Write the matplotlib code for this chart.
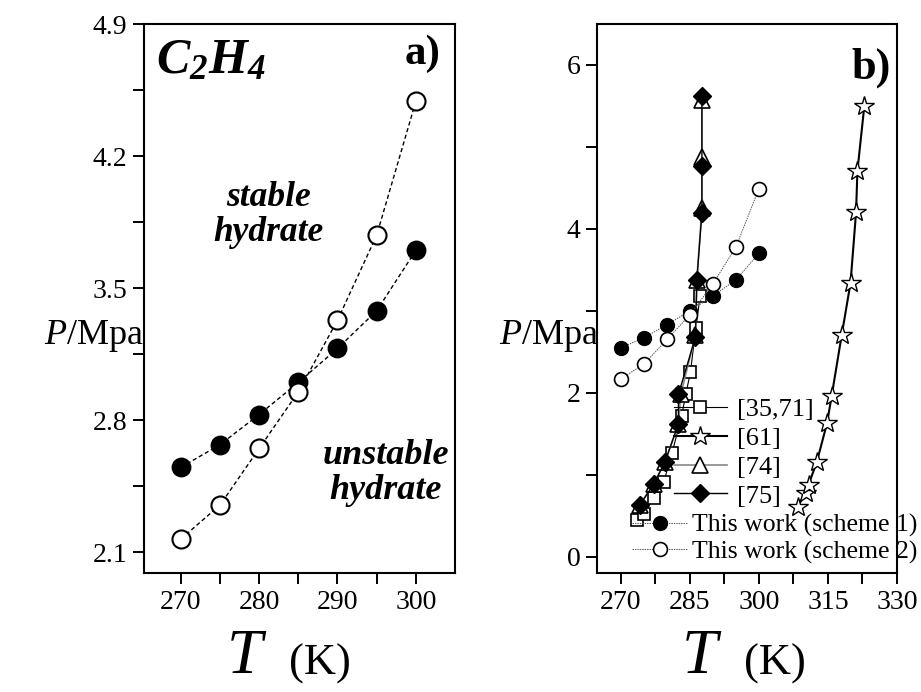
import matplotlib
matplotlib.use("Agg")
import matplotlib.pyplot as plt
from matplotlib.ticker import FixedLocator

plt.rcParams['font.family'] = ['Liberation Serif', 'DejaVu Serif']
plt.rcParams['mathtext.fontset'] = 'custom'
plt.rcParams['mathtext.it'] = 'Liberation Serif:italic'
plt.rcParams['mathtext.rm'] = 'Liberation Serif'
plt.rcParams['mathtext.bf'] = 'Liberation Serif:bold:italic'

# ---- data ----
T_work = [270, 275, 280, 285, 290, 295, 300]
P_scheme1 = [2.55, 2.67, 2.83, 3.00, 3.18, 3.38, 3.70]
P_scheme2 = [2.17, 2.35, 2.65, 2.95, 3.33, 3.78, 4.49]

T_3571 = [273.6, 275.1, 277.1, 279.3, 281.1, 283.2, 284.1, 285.1, 286.3, 287.2]
P_3571 = [0.45, 0.52, 0.72, 0.91, 1.26, 1.72, 1.98, 2.25, 2.79, 3.18]

T_61 = [308.4, 310.2, 310.8, 312.6, 314.8, 315.8, 318.0, 319.9, 321.1, 321.4, 322.9]
P_61 = [0.61, 0.78, 0.88, 1.16, 1.63, 1.96, 2.71, 3.34, 4.20, 4.71, 5.50]

T_74 = [274.1, 277.1, 279.6, 282.5, 283.0, 286.2, 286.5, 287.6, 287.6, 287.6]
P_74 = [0.63, 0.89, 1.16, 1.62, 1.98, 2.70, 3.38, 4.25, 4.88, 5.57]

T_75 = [274.1, 277.2, 279.6, 282.5, 282.5, 286.2, 286.5, 287.6, 287.6, 287.6]
P_75 = [0.63, 0.89, 1.16, 1.62, 1.98, 2.68, 3.38, 4.19, 4.77, 5.62]

labels_b = ['[35,71]', '[61]', '[74]', '[75]', 'This work (scheme 1)', 'This work (scheme 2)']

W, H = 921, 692
fig = plt.figure(figsize=(W / 100, H / 100), dpi=100)

def px_rect(x0, x1, ytop, ybot):
    return [x0 / W, 1 - ybot / H, (x1 - x0) / W, (ybot - ytop) / H]

axa = fig.add_axes(px_rect(144, 455, 24, 573))
axb = fig.add_axes(px_rect(597, 897, 24, 573))

for ax in (axa, axb):
    for s in ax.spines.values():
        s.set_linewidth(1.5)
    ax.tick_params(which='both', direction='out', width=1.4, labelsize=20,
                   top=False, right=False, pad=4)
    ax.tick_params(which='major', length=8)
    ax.tick_params(which='minor', length=8)

# ---- panel a ----
axa.plot(T_work, P_scheme1, linestyle=(0, (3, 2)), color='black', lw=1.0,
         marker='o', ms=13, mfc='black', mec='black', mew=1.3)
axa.plot(T_work, P_scheme2, linestyle=(0, (3, 2)), color='black', lw=1.0,
         marker='o', ms=13, mfc='white', mec='black', mew=1.5)
axa.set_xlim(265.3, 305)
axa.set_ylim(1.99, 4.9)
axa.xaxis.set_major_locator(FixedLocator([270, 280, 290, 300]))
axa.xaxis.set_minor_locator(FixedLocator([275, 285, 295]))
axa.yaxis.set_major_locator(FixedLocator([2.1, 2.8, 3.5, 4.2, 4.9]))
axa.yaxis.set_minor_locator(FixedLocator([2.45, 3.15, 3.85, 4.55]))
axa.set_yticklabels(['2.1', '2.8', '3.5', '4.2', '4.9'])

axa.text(0.04, 0.975, r'$\mathbf{C_2H_4}$', transform=axa.transAxes, fontsize=36,
         ha='left', va='top')
axa.text(0.952, 0.98, 'a)', transform=axa.transAxes, fontsize=31,
         fontweight='bold', ha='right', va='top')
axa.text(0.40, 0.652, 'stable\nhydrate', transform=axa.transAxes, fontsize=25.5,
         fontweight='bold', fontstyle='italic', ha='center', va='center',
         linespacing=1.1)
axa.text(0.777, 0.182, 'unstable\nhydrate', transform=axa.transAxes, fontsize=26,
         fontweight='bold', fontstyle='italic', ha='center', va='center',
         linespacing=1.05)

# ---- panel b ----
h1, = axb.plot(T_3571, P_3571, color='black', lw=0.8, marker='s', ms=9,
               mfc='white', mec='black', mew=1.2, label=labels_b[0])
h2, = axb.plot(T_61, P_61, color='black', lw=1.5, marker='*', ms=15,
               mfc='white', mec='black', mew=1.0, label=labels_b[1])
h3, = axb.plot(T_74, P_74, color='#888888', lw=1.2, marker='^', ms=12,
               mfc='white', mec='black', mew=1.2, label=labels_b[2])
h4, = axb.plot(T_75, P_75, color='black', lw=1.0, marker='D', ms=9.5,
               mfc='black', mec='black', mew=1.0, label=labels_b[3])
h5, = axb.plot(T_work, P_scheme1, color='#555555', lw=0.7, linestyle=(0, (1.5, 1)),
               marker='o', ms=10, mfc='black', mec='black', mew=1.0, label=labels_b[4])
h6, = axb.plot(T_work, P_scheme2, color='#555555', lw=0.7, linestyle=(0, (1.5, 1)),
               marker='o', ms=10, mfc='white', mec='black', mew=1.2, label=labels_b[5])

axb.set_xlim(264.8, 330)
axb.set_ylim(-0.2, 6.5)
axb.xaxis.set_major_locator(FixedLocator([270, 285, 300, 315, 330]))
axb.xaxis.set_minor_locator(FixedLocator([277.5, 292.5, 307.5, 322.5]))
axb.yaxis.set_major_locator(FixedLocator([0, 2, 4, 6]))
axb.yaxis.set_minor_locator(FixedLocator([1, 3, 5]))

axb.text(0.98, 0.958, 'b)', transform=axb.transAxes, fontsize=32,
         fontweight='bold', ha='right', va='top')

leg1 = axb.legend(handles=[h1, h2, h3, h4], loc='upper left',
                  bbox_to_anchor=(674 / W, 1 - 398 / H), bbox_transform=fig.transFigure,
                  frameon=False, fontsize=19, handlelength=2.0, handletextpad=0.4,
                  labelspacing=0.2, borderpad=0, borderaxespad=0)
axb.add_artist(leg1)
axb.legend(handles=[h5, h6], loc='upper left',
           bbox_to_anchor=(632 / W, 1 - 514 / H), bbox_transform=fig.transFigure,
           frameon=False, fontsize=18.5, handlelength=2.15, handletextpad=0.2,
           labelspacing=0.12, borderpad=0, borderaxespad=0)

# ---- axis labels ----
for xT, xK in ((245, 320), (700, 775)):
    fig.text(xT / W, 1 - 658 / H, 'T', fontsize=46, fontstyle='italic',
             ha='center', va='center')
    fig.text(xK / W, 1 - 664 / H, '(K)', fontsize=32, ha='center', va='center')

for xP in (94, 549):
    fig.text(xP / W, 1 - 336 / H, r'$P$/Mpa', fontsize=26,
             ha='center', va='center')

fig.savefig('out.png', dpi=100)
